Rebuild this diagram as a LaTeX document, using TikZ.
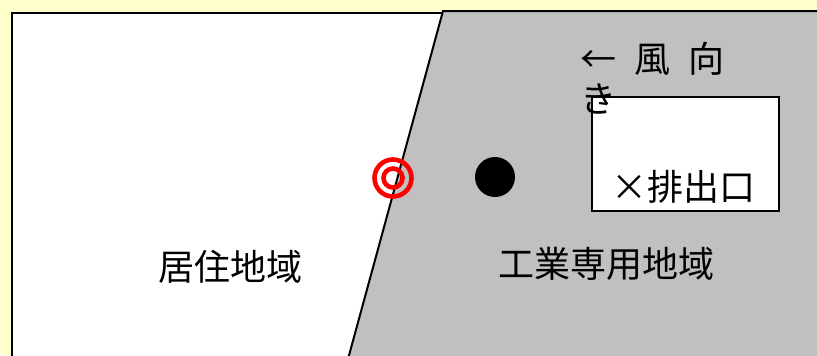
\documentclass[tikz,border=0pt]{standalone}
\usepackage{fontspec}
\newfontfamily\jp{Noto Sans CJK JP}
\definecolor{paper}{HTML}{FFFFCC}
\definecolor{zone}{HTML}{C0C0C0}
\begin{document}
\begin{tikzpicture}[x=0.5pt,y=-0.5pt]

        \clip (0,0) rectangle (817,355);
        \fill[paper] (0,0) rectangle (817,355);

        % areas
        \draw[line width=1pt,fill=white] (12,13) rectangle (830,370);
        \draw[line width=1pt,fill=zone] (443,11) -- (830,11) -- (830,370) -- (345,370) -- cycle;

        \begin{scope}[every node/.style={font=\jp\fontsize{18}{20}\selectfont, inner sep=0pt}]
          \node (home)  at (230,267) {居住地域};
          \node (works) at (606,264) {工業専用地域};
          \node[draw, line width=1pt, fill=white, minimum width=93.5pt, minimum height=57pt] (outlet) at (685.5,154) {};
          \node (mark)  at (683,187) {×排出口};
          \node[anchor=north west, align=left] (wind) at (580,42) {←\hspace{9pt}風\hspace{9pt}向\\き};
        \end{scope}

        \begin{scope}[every node/.style={circle, inner sep=0pt}]
          \node[draw=red, line width=2.3pt, minimum size=18.5pt] (outer) at (393,178) {};
          \node[draw=red, line width=2.3pt, minimum size=9.5pt] (inner) at (393,178) {};
          \node[fill=black, minimum size=20pt] (source) at (495,177) {};
        \end{scope}

      \end{tikzpicture}
\end{document}
